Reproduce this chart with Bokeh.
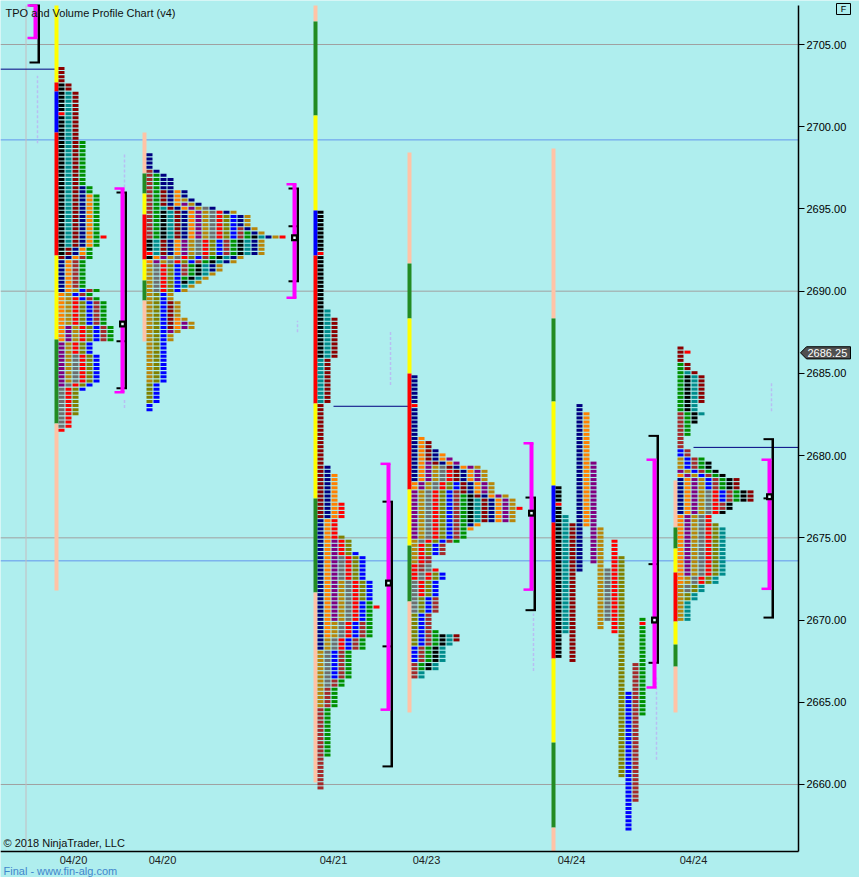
from bokeh.plotting import figure
from bokeh.models import Range1d, FixedTicker, NumeralTickFormatter, Label, LinearAxis
from bokeh.embed import file_html
from bokeh.resources import INLINE

# ---------------- data ----------------
price_ticks = [2660, 2665, 2670, 2675, 2680, 2685, 2690, 2695, 2700, 2705]
grid_levels = [2705, 2690, 2675, 2660]
ref_levels = [2699.2, 2673.6]
date_x = [73, 162, 333, 426, 571, 693]
date_labels = ["04/20", "04/20", "04/21", "04/23", "04/24", "04/24"]
last_price = 2686.25

# TPO periods (high / low), in time order, per session profile
A_hi = [2702.5, 2702.0, 2703.5, 2696.25, 2695.75, 2687.75, 2690.0, 2686.0, 2689.5, 2689.25, 2690.0, 2692.0, 2699.0]
A_lo = [2692.25, 2692.75, 2692.0, 2690.0, 2687.0, 2684.25, 2684.5, 2681.75, 2681.5, 2682.5, 2684.0, 2687.0, 2687.0]
B_hi = [2697.25, 2697.0, 2694.75, 2695.0, 2696.0, 2696.75, 2696.0, 2695.25, 2695.5, 2695.0, 2694.75,
        2694.5, 2694.5, 2693.75, 2693.5, 2693.25, 2693.25, 2689.25, 2698.25, 2688.25, 2688.0, 2694.75]
B_lo = [2693.25, 2693.25, 2692.0, 2692.25, 2692.25, 2692.25, 2691.75, 2691.75, 2684.5, 2690.0, 2690.0,
        2683.25, 2682.75, 2691.0, 2690.75, 2690.5, 2690.25, 2687.75, 2691.25, 2687.75, 2687.5, 2687.0]
C_hi = [2694.75, 2688.75, 2688.25, 2679.25, 2678.75, 2674.75, 2672.25, 2673.75, 2677.0, 2675.0, 2674.0, 2669.75, 2671.0]
C_lo = [2686.0, 2683.25, 2676.25, 2668.25, 2669.0, 2670.0, 2664.75, 2666.0, 2668.25, 2671.25, 2666.5, 2659.75, 2661.75]
D_hi = [2684.75, 2681.0, 2679.5, 2679.25, 2679.25, 2679.0, 2678.25, 2678.25, 2677.75, 2677.5, 2677.5, 2677.25, 2680.75,
        2680.25, 2680.0, 2679.75, 2679.25, 2673.25, 2673.0, 2672.75, 2672.75, 2671.25, 2669.25, 2669.0, 2669.0, 2669.0]
D_lo = [2678.5, 2678.0, 2675.0, 2673.5, 2674.75, 2672.5, 2674.0, 2674.0, 2673.0, 2674.75, 2676.0, 2676.0, 2676.0,
        2675.75, 2675.5, 2676.0, 2676.0, 2670.5, 2671.5, 2668.5, 2667.5, 2666.5, 2667.0, 2667.0, 2666.5, 2668.75]
E_hi = [2678.0, 2676.25, 2675.75, 2683.0, 2682.5, 2679.5, 2675.5, 2673.0, 2674.75, 2673.75, 2665.5, 2667.25, 2670.0]
E_lo = [2667.75, 2669.25, 2667.5, 2673.0, 2675.75, 2673.5, 2669.5, 2670.0, 2669.25, 2660.5, 2657.25, 2659.0, 2664.25]
F_hi = [2682.5, 2685.5, 2684.75, 2685.0, 2686.5, 2678.5, 2678.75, 2679.0, 2679.75, 2677.75, 2677.75, 2675.75,
        2680.25, 2680.25, 2679.75, 2679.5, 2675.5, 2678.5]
F_lo = [2680.5, 2681.25, 2682.0, 2682.5, 2683.25, 2676.5, 2672.25, 2672.75, 2670.0, 2671.75, 2672.25, 2671.25,
        2677.25, 2676.75, 2677.25, 2676.5, 2670.0, 2677.25]

prof_hi = [A_hi, B_hi, C_hi, D_hi, E_hi, F_hi]
prof_lo = [A_lo, B_lo, C_lo, D_lo, E_lo, F_lo]
prof_x0 = [58, 146, 317, 411, 555, 677]
prof_color_start = [0, 11, 0, 3, 0, 11]
prof_split = [False, False, False, False, True, False]
open_price = [2700.75, 2692.25, 2692.25, 2683.0, 2677.0, 2686.25]
open_col = [0, 0, 0, 0, 0, 1]
close_price = [2693.25, 2693.25, 2670.75, 2676.75, 2669.75, None]

# session bars: level boundaries (top -> bottom) and segment colours
S, G, Y, R, U = "#FFC3A6", "#228B22", "#FFFF00", "#FF0000", "#0000FF"
bar_levels = [
    [2707.37, 2702.69, 2702.14, 2699.65, 2692.17, 2687.06, 2681.95, 2671.8],
    [2699.65, 2697.16, 2695.94, 2694.66, 2691.93, 2690.65, 2689.43, 2686.94],
    [2707.37, 2706.40, 2700.68, 2694.91, 2692.17, 2683.17, 2677.39, 2671.68, 2660.12],
    [2698.43, 2691.68, 2688.34, 2684.99, 2677.94, 2674.53, 2671.13, 2664.38],
    [2698.68, 2688.34, 2683.29, 2678.18, 2675.93, 2667.66, 2662.55, 2657.38, 2655.925],
    [2678.49, 2675.63, 2674.35, 2672.89, 2669.91, 2668.51, 2667.17, 2664.38],
]
bar_colors = [
    [Y, R, U, R, Y, G, S],
    [S, G, Y, R, Y, G, S],
    [S, G, Y, U, R, Y, G, S],
    [S, G, Y, R, Y, G, S],
    [S, G, Y, U, R, Y, G, S],
    [S, G, Y, R, Y, G, S],
]

# value-area brackets
va_x = [37, 124, 296, 390, 533, 656, 771]
va_hi = [2707.37, 2696.25, 2696.5, 2679.5, 2680.75, 2679.75, 2679.75]
va_lo = [2705.4, 2683.85, 2689.6, 2664.55, 2671.85, 2665.9, 2671.9]
vva_hi = [2707.37, 2696.0, 2696.25, 2677.2, 2677.45, 2681.2, 2681.0]
vva_lo = [2703.9, 2684.1, 2690.6, 2661.1, 2670.6, 2667.4, 2670.15]
vva_mid = [None, 2686.95, 2693.95, 2668.4, None, 2673.4, 2677.4]
poc = [None, 2688.0, 2693.25, 2672.25, 2676.5, 2670.0, 2677.5]

# naked level lines: price, from x, to x
lvl_price = [2703.5, 2683.0, 2680.5]
lvl_x0 = [0, 333, 693]
lvl_x1 = [55, 410, 798]

# faint dashed volume lines: x, top, bottom
dash_x = [37, 124, 124, 297, 390, 533, 656, 771]
dash_top = [2703.1, 2698.4, 2683.5, 2688.2, 2687.6, 2670.4, 2666.5, 2684.4]
dash_bot = [2699.0, 2696.3, 2682.9, 2687.5, 2684.3, 2666.9, 2661.5, 2682.7]

PALETTE = ["#000000", "#008B8B", "#8B0000", "#000080", "#FF8000", "#800080", "#B8860B",
           "#6E6E6E", "#FF0000", "#808000", "#0000FF", "#A52A2A", "#009000"]
BG = "#AFEEEE"
PX = 16.4444                       # pixels per point
Y_TOP, Y_BOT = 2707.372, 2655.925  # plotting-area limits
X_L, X_R = 0, 798                  # plotting-area limits


def py(pix):
    """price at a given vertical pixel of the 877 px canvas"""
    return 2705 - (pix - 44) / PX


# ---------------- figure ----------------
p = figure(width=859, height=877, x_range=Range1d(0, 859), y_range=Range1d(py(877), py(0)),
           output_backend="svg", toolbar_location=None, x_axis_location=None, y_axis_location=None,
           min_border=0, background_fill_color=BG, border_fill_color=BG, outline_line_color=None)
p.xgrid.visible = False
p.ygrid.visible = False

# grid and reference lines
p.segment(x0=X_L, x1=X_R, y0=grid_levels, y1=grid_levels, line_color="#A0A0A0", line_width=1)
p.segment(x0=X_L, x1=X_R, y0=ref_levels, y1=ref_levels, line_color="#6495ED", line_width=1)
p.segment(x0=[25.5], x1=[25.5], y0=[Y_BOT], y1=[Y_TOP], line_color="#C4BCC0", line_width=1)
p.segment(x0=dash_x, x1=dash_x, y0=dash_bot, y1=dash_top, line_color="#B8BEF2",
          line_width=1.5, line_dash="3 2")
p.segment(x0=lvl_x0, x1=lvl_x1, y0=lvl_price, y1=lvl_price, line_color="#000080", line_width=1)

# session bars
bl, br, bt, bb, bc = [], [], [], [], []
for x0, lv, cs in zip(prof_x0, bar_levels, bar_colors):
    for j, c in enumerate(cs):
        bl.append(x0 - 4); br.append(x0); bt.append(lv[j]); bb.append(lv[j + 1]); bc.append(c)
p.quad(left=bl, right=br, top=bt, bottom=bb, fill_color=bc, line_color=None)

# TPO cells
L, Rr, T, Bm, Cc = [], [], [], [], []
for k in range(len(prof_x0)):
    th = [round(v * 4) for v in prof_hi[k]]
    tl = [round(v * 4) for v in prof_lo[k]]
    n = len(th)
    split = prof_split[k]
    for t in range(min(tl), max(th) + 1):
        row = []
        for i in range(n):
            if tl[i] <= t <= th[i]:
                row.append([i if split else len(row), PALETTE[(prof_color_start[k] + i) % 13]])
        if round(open_price[k] * 4) == t:
            oc = open_col[k]
            hit = [c for c in row if c[0] == oc]
            if hit:
                hit[0][1] = "#FF0000"
            else:
                row.append([oc, "#FF0000"])
        if close_price[k] is not None and round(close_price[k] * 4) == t:
            if split:
                for c in row:
                    if c[0] == n - 1:
                        c[1] = "#FF0000"
            else:
                row.append([len(row), "#FF0000"])
        price = t / 4.0
        for col, colr in row:
            left = prof_x0[k] + 7 * col
            L.append(left); Rr.append(left + 6)
            T.append(price + 0.134); Bm.append(price - 0.049); Cc.append(colr)
p.quad(left=L, right=Rr, top=T, bottom=Bm, fill_color=Cc, line_color=None)

# value area brackets
for i, a in enumerate(va_x):
    p.segment(x0=[a + 1.25], x1=[a + 1.25], y0=[vva_lo[i]], y1=[vva_hi[i]], line_color="black", line_width=2.5)
    ticks = [v for v in (vva_hi[i], vva_lo[i], vva_mid[i]) if v is not None]
    p.segment(x0=[a - 8] * len(ticks), x1=[a + 2.5] * len(ticks), y0=ticks, y1=ticks,
              line_color="black", line_width=2)
    p.segment(x0=[a - 2], x1=[a - 2], y0=[va_lo[i]], y1=[va_hi[i]], line_color="#FF00FF", line_width=4)
    p.segment(x0=[a - 10, a - 10], x1=[a, a], y0=[va_hi[i], va_lo[i]], y1=[va_hi[i], va_lo[i]],
              line_color="#FF00FF", line_width=2.5)
    if poc[i] is not None:
        p.scatter(x=[a - 2], y=[poc[i]], marker="square", size=7, fill_color="black", line_color=None)
        p.scatter(x=[a - 2], y=[poc[i]], marker="square", size=2.5, fill_color="#E6FFFF", line_color=None)

# axes (fixed at the edges of the plotting area)
yax = LinearAxis(fixed_location=X_R, bounds=(Y_BOT, Y_TOP), ticker=FixedTicker(ticks=price_ticks),
                 formatter=NumeralTickFormatter(format="0.00"))
yax.major_tick_out = 6
yax.major_tick_in = 0
yax.minor_tick_out = 0
yax.minor_tick_in = 0
yax.axis_line_color = "black"
yax.axis_line_width = 1.5
yax.major_tick_line_color = "black"
yax.major_label_standoff = 2
yax.major_label_text_font = "Liberation Sans"
yax.major_label_text_font_size = "11px"
yax.major_label_text_color = "black"
p.add_layout(yax, "right")

xax = LinearAxis(fixed_location=Y_BOT, bounds=(X_L, X_R), ticker=FixedTicker(ticks=date_x))
xax.major_label_overrides = {x: lab for x, lab in zip(date_x, date_labels)}
xax.major_tick_out = 0
xax.major_tick_in = 0
xax.minor_tick_out = 0
xax.minor_tick_in = 0
xax.axis_line_color = "black"
xax.axis_line_width = 1.5
xax.major_label_standoff = 2
xax.major_label_text_font = "Liberation Sans"
xax.major_label_text_font_size = "11px"
xax.major_label_text_color = "#202020"
p.add_layout(xax, "below")

# last-price tag on the price axis
tag_h = 0.37
p.patch(x=[800, 806, 850, 850, 806], y=[last_price, last_price + tag_h, last_price + tag_h,
                                        last_price - tag_h, last_price - tag_h],
        fill_color="#505050", line_color="black", line_width=1)
p.add_layout(Label(x=807, y=last_price, text="%.2f" % last_price, text_baseline="middle",
                   text_color="white", text_font="Liberation Sans", text_font_size="11px"))

# "F" box, top right
p.quad(left=[836], right=[850], top=[py(3)], bottom=[py(14)], fill_color=None, line_color="black",
       line_width=1)
p.add_layout(Label(x=843, y=py(8.5), text="F", text_align="center", text_baseline="middle",
                   text_font="Liberation Sans", text_font_size="9px", text_color="black"))

# texts
p.add_layout(Label(x=5, y=Y_TOP, text="TPO and Volume Profile Chart (v4)", text_baseline="top",
                   text_font="Liberation Sans", text_font_size="11px", text_color="#101010", y_offset=-2))
p.add_layout(Label(x=3, y=py(848.5), text="© 2018 NinjaTrader, LLC", text_baseline="bottom",
                   text_font="Liberation Sans", text_font_size="11px", text_color="#101010"))
p.add_layout(Label(x=3, y=py(876), text="Final - www.fin-alg.com", text_baseline="bottom",
                   text_font="Liberation Sans", text_font_size="11px", text_color="#3F86CC"))

open("out.html", "w").write(file_html(p, INLINE))
